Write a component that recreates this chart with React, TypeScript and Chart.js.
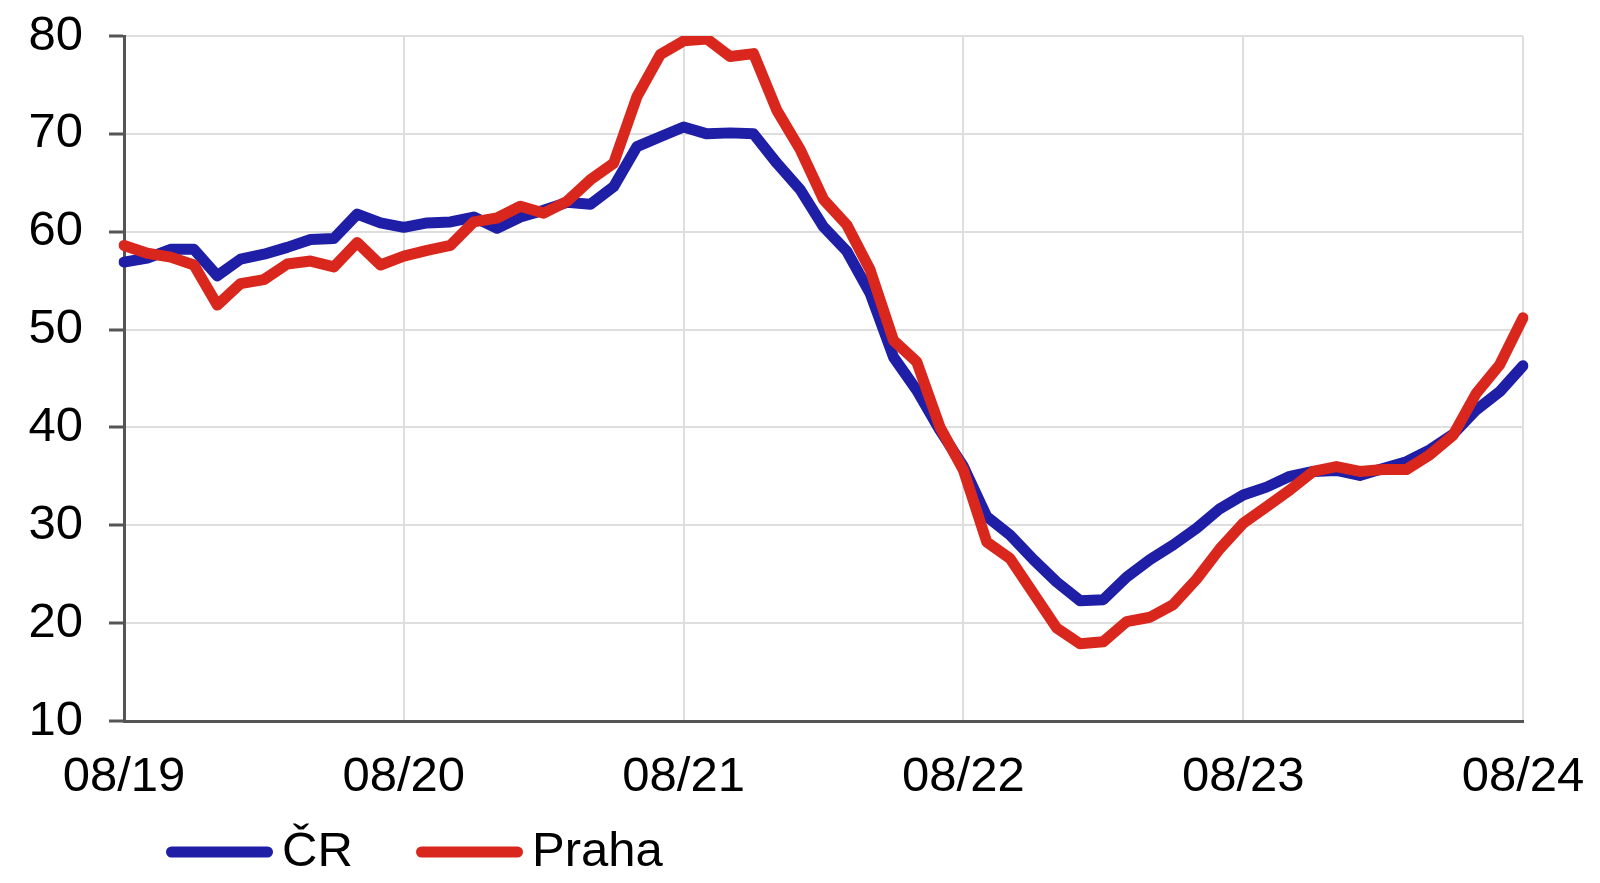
import React, { useEffect, useRef } from "react";
import { Chart, registerables } from "chart.js";

Chart.register(...registerables);

const months: string[] = [
  "08/19", "09/19", "10/19", "11/19", "12/19", "01/20", "02/20", "03/20", "04/20", "05/20", "06/20", "07/20",
  "08/20", "09/20", "10/20", "11/20", "12/20", "01/21", "02/21", "03/21", "04/21", "05/21", "06/21", "07/21",
  "08/21", "09/21", "10/21", "11/21", "12/21", "01/22", "02/22", "03/22", "04/22", "05/22", "06/22", "07/22",
  "08/22", "09/22", "10/22", "11/22", "12/22", "01/23", "02/23", "03/23", "04/23", "05/23", "06/23", "07/23",
  "08/23", "09/23", "10/23", "11/23", "12/23", "01/24", "02/24", "03/24", "04/24", "05/24", "06/24", "07/24",
  "08/24",
];

const cr: number[] = [
  56.9, 57.3, 58.2, 58.2, 55.5, 57.2, 57.7, 58.4, 59.2, 59.3, 61.8, 60.9,
  60.45, 60.9, 61.0, 61.5, 60.35, 61.5, 62.2, 63.0, 62.8, 64.6, 68.7, 69.7,
  70.7, 70.0, 70.1, 70.0, 67.0, 64.3, 60.5, 58.0, 53.7, 47.2, 43.8, 39.7,
  36.0, 30.9, 29.0, 26.5, 24.2, 22.3, 22.4, 24.7, 26.5, 28.0, 29.7, 31.7,
  33.1, 33.9, 35.0, 35.5, 35.6, 35.1, 35.8, 36.5, 37.7, 39.3, 41.8, 43.65,
  46.3,
];

const praha: number[] = [
  58.6, 57.8, 57.4, 56.6, 52.5, 54.7, 55.1, 56.7, 57.0, 56.4, 58.9, 56.6,
  57.5, 58.1, 58.6, 61.0, 61.4, 62.6, 61.9, 63.1, 65.3, 67.0, 73.8, 78.1,
  79.5, 79.7, 77.9, 78.2, 72.4, 68.4, 63.3, 60.7, 56.1, 48.9, 46.7, 40.0,
  35.65, 28.3, 26.6, 23.05, 19.5, 17.9, 18.1, 20.15, 20.6, 21.9, 24.5, 27.6,
  30.2, 31.9, 33.6, 35.5, 36.0, 35.5, 35.7, 35.7, 37.2, 39.2, 43.5, 46.4,
  51.2,
];

const seriesNames: string[] = ["ČR", "Praha"];
const yTicks: number[] = [10, 20, 30, 40, 50, 60, 70, 80];

const BLUE = "#1e1ea6";
const RED = "#da271d";
const AXIS = "#555555";
const GRID = "#dedede";
const FONT = "'Liberation Sans', Arial, sans-serif";
const FONT_SIZE = 49;
const LINE_W = 11;

// legend layout (styling only)
const LEGEND_Y = 852;
const LEGEND_ITEMS_X: number[] = [166, 416];
const LEGEND_LINE_LEN = 107;
const LEGEND_TEXT_GAP = 9;
const LEGEND_LINE_W = 11;

const legendPlugin = {
  id: "lineLegend",
  afterDraw(chart: any) {
    const ctx = chart.ctx as CanvasRenderingContext2D;
    ctx.save();
    chart.data.datasets.forEach((ds: any, i: number) => {
      const x0 = LEGEND_ITEMS_X[i];
      ctx.strokeStyle = ds.borderColor;
      ctx.lineWidth = LEGEND_LINE_W;
      ctx.lineCap = "round";
      ctx.beginPath();
      ctx.moveTo(x0 + LEGEND_LINE_W / 2, LEGEND_Y);
      ctx.lineTo(x0 + LEGEND_LINE_LEN - LEGEND_LINE_W / 2, LEGEND_Y);
      ctx.stroke();
      ctx.fillStyle = "#000";
      ctx.font = `${FONT_SIZE}px ${FONT}`;
      ctx.textAlign = "left";
      ctx.textBaseline = "middle";
      ctx.fillText(ds.label, x0 + LEGEND_LINE_LEN + LEGEND_TEXT_GAP, LEGEND_Y);
    });
    ctx.restore();
  },
};

export default function App() {
  const ref = useRef<HTMLCanvasElement | null>(null);

  useEffect(() => {
    if (!ref.current) return;
    const chart = new Chart(ref.current, {
      type: "line",
      data: {
        labels: months,
        datasets: [
          {
            label: seriesNames[0],
            data: cr,
            borderColor: BLUE,
            backgroundColor: BLUE,
            borderWidth: LINE_W,
            pointRadius: 0,
            tension: 0,
            borderJoinStyle: "round",
            borderCapStyle: "round",
            order: 1,
          },
          {
            label: seriesNames[1],
            data: praha,
            borderColor: RED,
            backgroundColor: RED,
            borderWidth: LINE_W,
            pointRadius: 0,
            tension: 0,
            borderJoinStyle: "round",
            borderCapStyle: "round",
            order: 0,
          },
        ],
      },
      plugins: [legendPlugin],
      options: {
        animation: false,
        responsive: true,
        maintainAspectRatio: false,
        layout: { padding: { top: 36, right: 77, left: 0, bottom: 0 } },
        plugins: {
          tooltip: { enabled: false },
          legend: { display: false },
        },
        scales: {
          x: {
            type: "category",
            afterBuildTicks: (scale: any) => {
              scale.ticks = scale.ticks.filter((t: any) => t.value % 12 === 0);
            },
            afterFit: (scale: any) => {
              scale.height = 162;
              scale.paddingLeft = 0;
              scale.paddingRight = 0;
            },
            ticks: {
              autoSkip: false,
              maxRotation: 0,
              minRotation: 0,
              padding: 27,
              color: "#000",
              font: { family: FONT, size: FONT_SIZE },
            },
            grid: {
              color: GRID,
              lineWidth: 2,
              drawTicks: false,
            },
            border: { display: true, color: AXIS, width: 3 },
          },
          y: {
            min: 10,
            max: 80,
            afterBuildTicks: (scale: any) => {
              scale.ticks = yTicks.map((v) => ({ value: v }));
            },
            afterFit: (scale: any) => {
              scale.width = 124;
              scale.paddingTop = 0;
              scale.paddingBottom = 0;
            },
            ticks: {
              stepSize: 10,
              padding: 26,
              color: "#000",
              font: { family: FONT, size: FONT_SIZE },
            },
            grid: {
              color: GRID,
              lineWidth: 2,
              drawTicks: true,
              tickLength: 15,
              tickColor: AXIS,
              tickWidth: 3,
            },
            border: { display: true, color: AXIS, width: 3 },
          },
        },
      },
    });
    return () => chart.destroy();
  }, []);

  return (
    <div style={{ position: "absolute", left: 0, top: 0, width: 1600, height: 883, background: "#fff" }}>
      <canvas ref={ref} />
    </div>
  );
}
